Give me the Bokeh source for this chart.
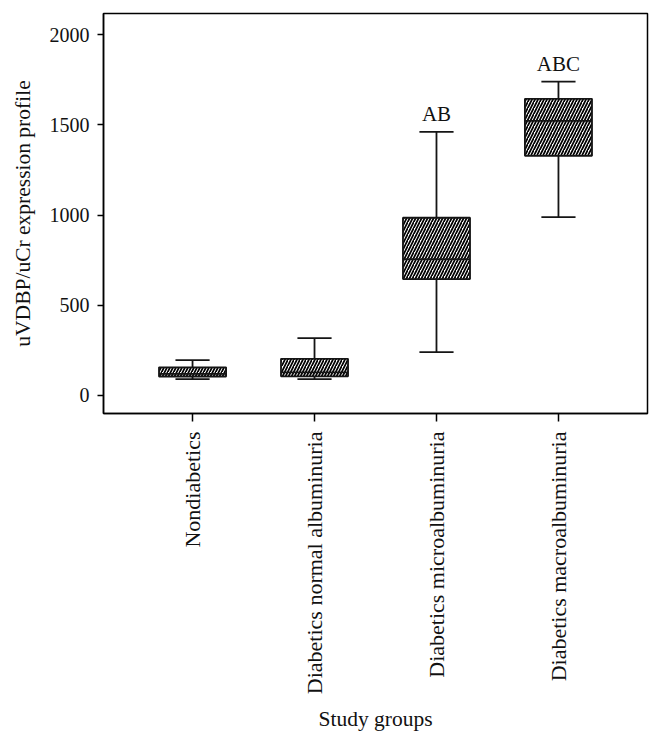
from bokeh.plotting import figure
from bokeh.models import Range1d, FixedTicker, ColumnDataSource
from bokeh.embed import file_html
from bokeh.resources import INLINE
from bokeh.core.properties import value

groups = ["Nondiabetics", "Diabetics normal albuminuria",
          "Diabetics microalbuminuria", "Diabetics macroalbuminuria"]
positions = [1, 2, 3, 4]
lower_whisker = [90, 90, 240, 988]
q1 = [105, 106, 645, 1328]
median = [120, 128, 756, 1522]
q3 = [156, 203, 985, 1644]
upper_whisker = [196, 318, 1461, 1739]
sig_labels = ["", "", "AB", "ABC"]
y_ticks = [0, 500, 1000, 1500, 2000]

FONT = "Liberation Serif"
INK = "#151515"

box_w = 0.55
cap_w = 0.28

src = ColumnDataSource(dict(
    x=positions, lo=lower_whisker, q1=q1, med=median, q3=q3, hi=upper_whisker,
    left=[v - box_w / 2 for v in positions], right=[v + box_w / 2 for v in positions],
    cl=[v - cap_w / 2 for v in positions], cr=[v + cap_w / 2 for v in positions],
    lab=sig_labels,
))

p = figure(frame_width=544, frame_height=400,
           x_range=Range1d(0.27, 4.73), y_range=Range1d(-100, 2117),
           output_backend="svg", toolbar_location=None,
           min_border_left=103, min_border_right=6, min_border_top=13, min_border_bottom=5)

p.xgrid.visible = False
p.ygrid.visible = False
p.outline_line_color = "black"
p.outline_line_width = 1.5
p.outline_line_alpha = 1.0
p.background_fill_color = "white"
p.border_fill_color = "white"

# whiskers
p.segment(x0="x", y0="q3", x1="x", y1="hi", source=src, line_color=INK, line_width=1.8)
p.segment(x0="x", y0="lo", x1="x", y1="q1", source=src, line_color=INK, line_width=1.8)
p.segment(x0="cl", y0="hi", x1="cr", y1="hi", source=src, line_color=INK, line_width=1.8)
p.segment(x0="cl", y0="lo", x1="cr", y1="lo", source=src, line_color=INK, line_width=1.8)

# boxes
p.quad(left="left", right="right", bottom="q1", top="q3", source=src,
       fill_color="white", line_color=INK, line_width=1.8,
       hatch_pattern="/", hatch_color="black", hatch_scale=6, hatch_weight=1.7)
# medians
p.segment(x0="left", y0="med", x1="right", y1="med", source=src, line_color=INK, line_width=1.8)

p.text(x="x", y="hi", text="lab", source=src, text_align="center",
       text_baseline="bottom", y_offset=-6, text_font=value(FONT),
       text_font_size="21px", text_color="#111111")

for ax in (p.xaxis[0], p.yaxis[0]):
    ax.axis_line_color = "black"
    ax.axis_line_width = 1.5
    ax.major_tick_line_color = "black"
    ax.major_tick_line_width = 1.5
    ax.minor_tick_line_color = None
    ax.major_label_text_font = FONT
    ax.major_label_text_color = "#111111"
    ax.axis_label_text_font = FONT
    ax.axis_label_text_font_size = "21.5px"
    ax.axis_label_text_font_style = "normal"
    ax.axis_label_text_color = "#111111"

p.yaxis.ticker = FixedTicker(ticks=y_ticks)
p.yaxis.major_label_text_font_size = "20px"
p.yaxis.major_tick_out = 6
p.yaxis.major_tick_in = 0
p.yaxis.major_label_standoff = 8
p.yaxis.axis_label = "uVDBP/uCr expression profile"
p.yaxis.axis_label_standoff = 12

p.xaxis.ticker = FixedTicker(ticks=positions)
p.xaxis.major_label_overrides = {pos: g for pos, g in zip(positions, groups)}
p.xaxis.major_label_orientation = 1.5708
p.xaxis.major_label_text_font_size = "22px"
p.xaxis.major_tick_out = 8
p.xaxis.major_tick_in = 0
p.xaxis.major_label_standoff = 10
p.xaxis.axis_label = "Study groups"
p.xaxis.axis_label_standoff = 10

open("out.html", "w").write(file_html(p, INLINE))
